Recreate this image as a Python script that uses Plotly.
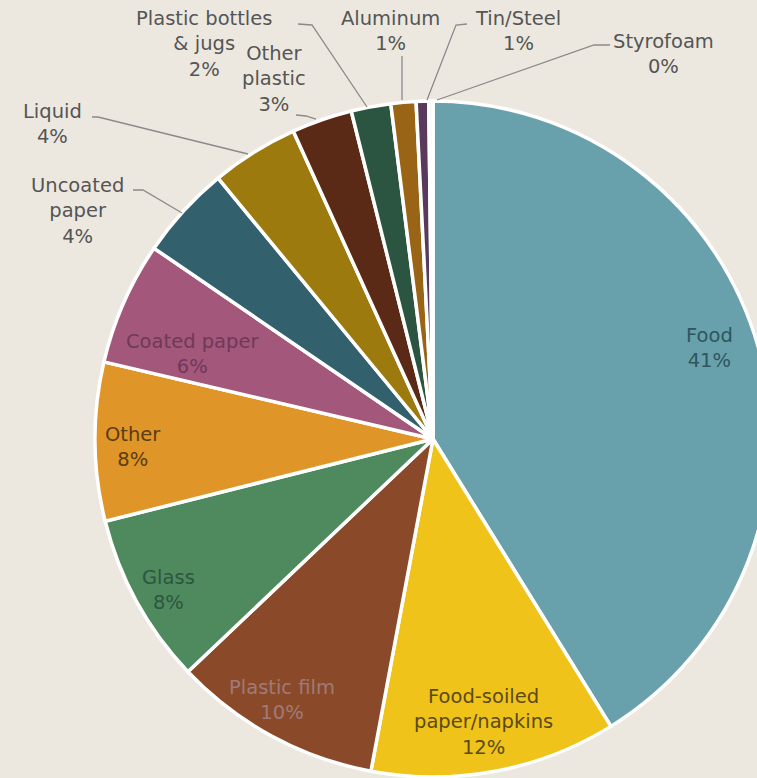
import plotly.graph_objects as go

# ---- data ----
categories = ["Food", "Food-soiled paper/napkins", "Plastic film", "Glass", "Other",
              "Coated paper", "Uncoated paper", "Liquid", "Other plastic",
              "Plastic bottles & jugs", "Aluminum", "Tin/Steel", "Styrofoam"]
shares = [41.3, 11.8, 10.0, 8.2, 7.6, 5.9, 4.5, 4.2, 2.9, 1.9, 1.2, 0.6, 0.2]
pct_labels = ["41%", "12%", "10%", "8%", "8%", "6%", "4%", "4%", "3%", "2%", "1%", "1%", "0%"]
display_names = ["Food", "Food-soiled<br>paper/napkins", "Plastic film", "Glass", "Other",
                 "Coated paper", "Uncoated<br>paper", "Liquid", "Other<br>plastic",
                 "Plastic bottles<br>&amp; jugs", "Aluminum", "Tin/Steel", "Styrofoam"]

# ---- styling ----
colors = ["#68a1ab", "#f0c31a", "#8a4a2a", "#4e8a5e", "#e09528", "#a3577b", "#33606d",
          "#9c7a0e", "#5b2a17", "#2b5541", "#9a6416", "#5a3a5c", "#e6eef0"]
text_colors = ["#2f5560", "#5a4a18", "#a07a78", "#2f5540", "#5a3c10", "#6e3a58", "#555555",
               "#555555", "#555555", "#555555", "#555555", "#555555", "#555555"]
W, H = 812, 778
BG = "#ece8df"

# label centre positions in pixels (x, y from top)
label_pos = [(709, 348), (483, 722), (282, 700), (168, 590), (133, 447), (192, 354),
             (77, 211), (52, 124), (274, 79), (204, 44), (390, 31), (518, 31), (663, 54)]
# leader lines in pixels
leaders = [
    [(133, 190), (143, 190), (182, 213)],          # Uncoated paper
    [(92, 117), (98, 117), (248, 154)],            # Liquid
    [(296, 115), (306, 116), (316, 119)],          # Other plastic
    [(298, 24), (312, 25), (367, 107)],            # Plastic bottles
    [(402, 56), (402, 100)],                       # Aluminum
    [(467, 24), (456, 25), (427, 100)],            # Tin/Steel
    [(610, 45), (594, 45), (437, 100)],            # Styrofoam
]


def px(x, y):
    return x / W, 1 - y / H


fig = go.Figure(go.Pie(
    labels=categories,
    values=shares,
    sort=False,
    direction="clockwise",
    rotation=0,
    textinfo="none",
    hoverinfo="label+percent",
    marker=dict(colors=colors, line=dict(color="white", width=3.5)),
    domain=dict(x=[95 / W, 771 / W], y=[1 - 777 / H, 1 - 101 / H]),
    showlegend=False,
))

annotations = []
for name, pct, (x, y), tc in zip(display_names, pct_labels, label_pos, text_colors):
    ax, ay = px(x, y)
    annotations.append(dict(
        x=ax, y=ay, xref="paper", yref="paper", showarrow=False,
        text=f"{name}<br>{pct}", align="center",
        font=dict(family="DejaVu Sans", size=19.5, color=tc),
        xanchor="center", yanchor="middle",
    ))

shapes = []
for pts in leaders:
    path = ""
    for i, (x, y) in enumerate(pts):
        X, Y = px(x, y)
        path += ("M" if i == 0 else " L") + f" {X:.5f},{Y:.5f}"
    shapes.append(dict(type="path", path=path, xref="paper", yref="paper",
                       line=dict(color="#8a8a8a", width=1.3)))

fig.update_layout(
    width=W, height=H,
    margin=dict(l=0, r=0, t=0, b=0),
    paper_bgcolor=BG, plot_bgcolor=BG,
    annotations=annotations,
    shapes=shapes,
)

fig.write_html("out.html",
               post_script="document.body.style.margin='0';document.body.style.overflow='hidden';document.documentElement.style.overflow='hidden';document.documentElement.style.background='" + BG + "';")
